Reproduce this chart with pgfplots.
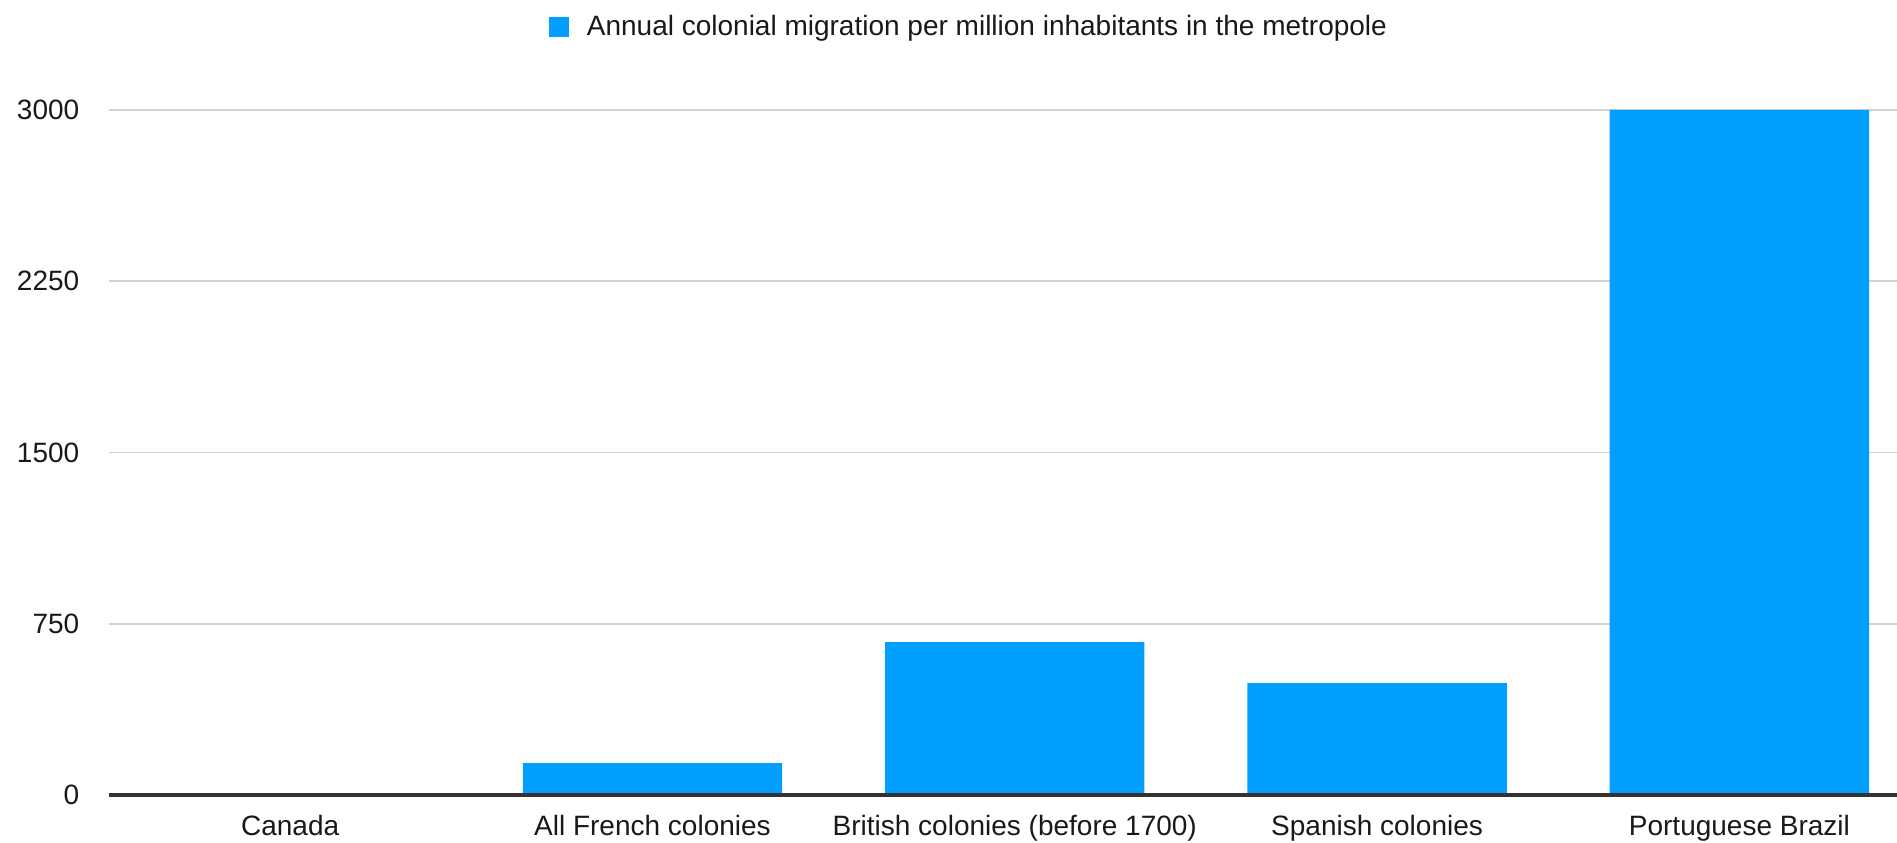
\documentclass[border=0pt]{standalone}
\usepackage{pgfplots}
\pgfplotsset{compat=1.18}
\usepackage{fontspec}
\setmainfont{Liberation Sans}
\definecolor{barblue}{RGB}{0,158,255}
\definecolor{gridgray}{RGB}{210,210,210}
\definecolor{basegray}{RGB}{50,50,50}
\begin{document}
\fontsize{14}{16}\selectfont
\begin{tikzpicture}
  \begin{axis}[name=ax,
               scale only axis,
               width=894pt,
               height=342.5pt,
               xmin=-0.5, xmax=4.435,
               ymin=0, ymax=3000,
               xtick={0,1,2,3,4},
               xticklabels={Canada, All French colonies, British colonies (before 1700), Spanish colonies, Portuguese Brazil},
               ytick={0,750,1500,2250,3000},
               axis line style={draw=none},
               major tick length=0pt,
               ymajorgrids,
               grid style={gridgray, line width=0.9pt},
               /pgf/number format/assume math mode=true,
               /pgf/number format/1000 sep={},
               tick label style={font=\fontsize{14}{16}\selectfont, text=black!90},
               y tick label style={xshift=-10pt},
               x tick label style={yshift=-5pt},
               legend style={draw=none, at={(axis description cs:0.4815,1.121)}, anchor=center,
                             font=\fontsize{14}{16}\selectfont, text=black!90},
               legend image code/.code={
                 \fill[barblue] (0pt,-5pt) rectangle (10pt,5pt);
                 \path (17pt,0pt);},
               clip=false]
    \addplot [ybar, bar width=0.716, fill=barblue, draw=none]
      coordinates {(0,5) (1,140) (2,670) (3,490) (4,3000)};
    \addlegendentry{Annual colonial migration per million inhabitants in the metropole}
    \draw [basegray, line width=1.6pt] (axis cs:-0.5,0) -- (axis cs:4.435,0);
  \end{axis}
  \pgfresetboundingbox
  \path (ax.south west) ++(-54.5pt,-23.5pt) rectangle ++(948.5pt,421pt);
\end{tikzpicture}
\end{document}
